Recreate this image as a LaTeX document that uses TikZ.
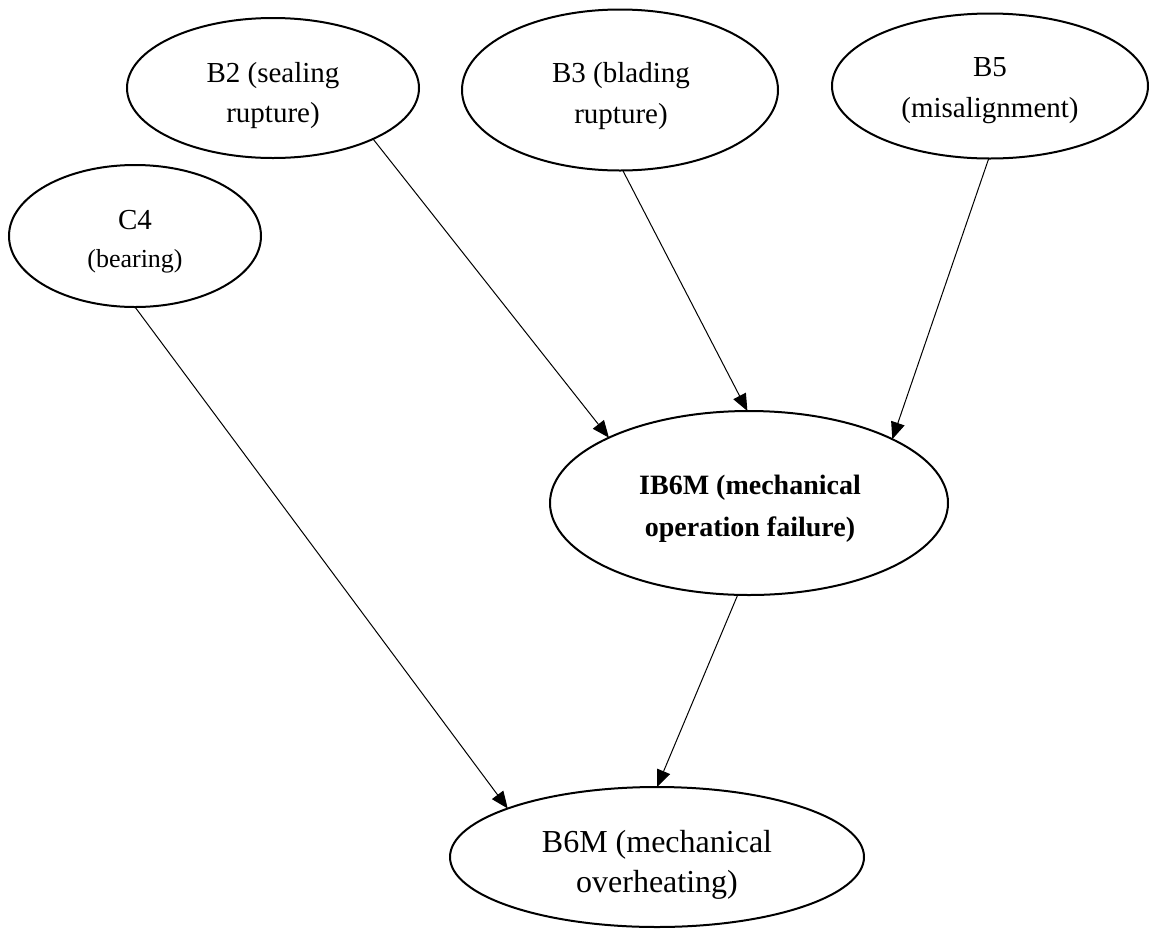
\documentclass[tikz,border=0pt]{standalone}
\usepackage{fontspec}
\setmainfont{Liberation Serif}
\usetikzlibrary{shapes.geometric,arrows.meta}
\begin{document}
\begin{tikzpicture}[x=1pt,y=-1pt,
  event/.style={draw=black, line width=2pt, ellipse, inner sep=0pt, outer sep=0pt},
  caption/.style={align=center, inner sep=0pt, text=black},
  link/.style={draw=black, line width=1pt, -{Triangle[length=17pt,width=14pt]}}]
\useasboundingbox (0,0) rectangle (1152,930);

% event ellipses
\node[event, minimum width=292pt, minimum height=140pt] (b2)   at (273,88)  {};
\node[event, minimum width=316pt, minimum height=161pt] (b3)   at (620,90)  {};
\node[event, minimum width=316pt, minimum height=145pt] (b5)   at (990,86)  {};
\node[event, minimum width=252pt, minimum height=142pt] (c4)   at (135,236) {};
\node[event, minimum width=398pt, minimum height=184pt] (ib6m) at (749,503) {};
\node[event, minimum width=414pt, minimum height=140pt] (b6m)  at (657,857) {};

% event labels
\node[caption, font=\fontsize{29}{40}\selectfont] (b2-text) at (273,96) {B2 (sealing\\rupture)};
\node[caption, font=\fontsize{29}{41}\selectfont] (b3-text) at (621,96) {B3 (blading\\rupture)};
\node[caption, font=\fontsize{29}{41}\selectfont] (b5-text) at (990,91) {B5\\(misalignment)};
\node[caption, font=\fontsize{29}{38}\selectfont] (c4-text) at (135,242) {C4\\{\fontsize{26}{38}\selectfont (bearing)}};
\node[caption, font=\bfseries\fontsize{28}{42}\selectfont] (ib6m-text) at (750,509) {IB6M (mechanical\\operation failure)};
\node[caption, font=\fontsize{32}{40}\selectfont] (b6m-text) at (657,865) {B6M (mechanical\\overheating)};

% causal links
\draw[link] (b2.-27)   -- (ib6m.155);
\draw[link] (b3.-88)   -- (ib6m.91);
\draw[link] (b5.-91)   -- (ib6m.24);
\draw[link] (c4.-90)   -- (b6m.162);
\draw[link] (ib6m.-97) -- (b6m.90);
\end{tikzpicture}
\end{document}
